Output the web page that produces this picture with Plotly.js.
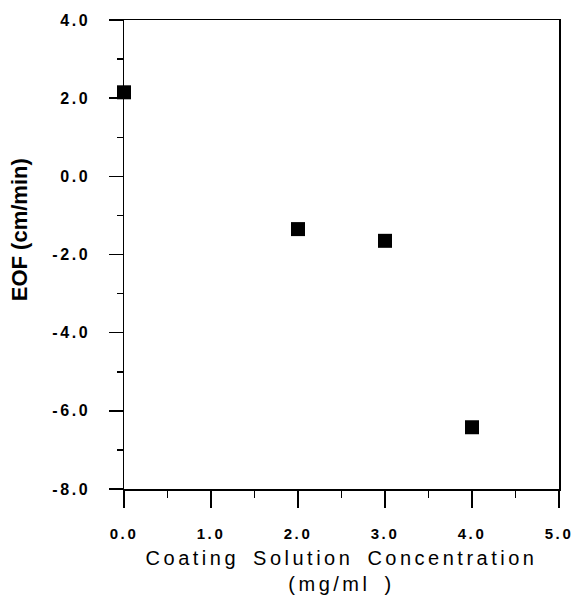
<!DOCTYPE html>
<html>
<head>
<meta charset="utf-8">
<script src="https://cdn.plot.ly/plotly-3.0.1.min.js"></script>
<style>
  html, body { margin: 0; padding: 0; background: #fff; }
  #chart { width: 576px; height: 595px; }
  .xtick text { letter-spacing: 2.6px; }
  .ytick text { letter-spacing: 2.6px; }
  .xtitle { letter-spacing: 3.5px; word-spacing: 5px; }
</style>
</head>
<body>
<div id="chart"></div>
<script>
// Data
const concentration = [0.0, 2.0, 3.0, 4.0];
const eof = [2.15, -1.35, -1.65, -6.42];

const xTickVals = [0, 1, 2, 3, 4, 5];
const xTickText = ["0.0", "1.0", "2.0", "3.0", "4.0", "5.0"];
const yTickVals = [-8, -6, -4, -2, 0, 2, 4];
const yTickText = ["-8.0", "-6.0", "-4.0", "-2.0", "0.0", "2.0", "4.0"];

const xTitle = "Coating Solution Concentration<br>(mg/ml )";
const yTitle = "EOF (cm/min)";

const FONT = "Liberation Sans, Arial, Helvetica, sans-serif";

const trace = {
  x: concentration,
  y: eof,
  type: "scatter",
  mode: "markers",
  cliponaxis: false,
  marker: { symbol: "square", size: 14, color: "#000" },
  hoverinfo: "x+y"
};

const layout = {
  width: 576,
  height: 595,
  margin: { l: 124, r: 17, t: 20, b: 106 },
  paper_bgcolor: "#fff",
  plot_bgcolor: "#fff",
  showlegend: false,
  font: { family: FONT, color: "#000" },
  xaxis: {
    range: [0, 5],
    tickmode: "array",
    tickvals: xTickVals,
    ticktext: xTickText,
    ticks: "outside",
    ticklen: 17,
    tickwidth: 1.5,
    tickcolor: "#000",
    ticklabelstandoff: 13,
    tickfont: { family: FONT, size: 15, weight: "bold", color: "#000" },
    minor: { tick0: 0, dtick: 0.5, ticks: "outside", ticklen: 7, tickwidth: 1.5, tickcolor: "#000", showgrid: false },
    showline: true,
    linecolor: "#000",
    linewidth: 1.5,
    mirror: true,
    showgrid: false,
    zeroline: false,
    title: { text: xTitle, font: { family: FONT, size: 20, color: "#000" }, standoff: 13 }
  },
  yaxis: {
    range: [-8, 4],
    tickmode: "array",
    tickvals: yTickVals,
    ticktext: yTickText,
    ticks: "outside",
    ticklen: 14,
    tickwidth: 1.5,
    tickcolor: "#000",
    ticklabelstandoff: 15,
    tickfont: { family: FONT, size: 16, weight: "bold", color: "#000" },
    minor: { tick0: 0, dtick: 1, ticks: "outside", ticklen: 6, tickwidth: 1.5, tickcolor: "#000", showgrid: false },
    showline: true,
    linecolor: "#000",
    linewidth: 1.5,
    mirror: true,
    showgrid: false,
    zeroline: false
  },
  annotations: [
    {
      text: yTitle,
      xref: "paper", yref: "paper",
      x: -0.24, y: 0.553,
      xanchor: "center", yanchor: "middle",
      textangle: -90,
      showarrow: false,
      font: { family: FONT, size: 22, weight: "bold", color: "#000" }
    }
  ]
};

Plotly.newPlot("chart", [trace], layout, { displayModeBar: false, staticPlot: true });
</script>
</body>
</html>
